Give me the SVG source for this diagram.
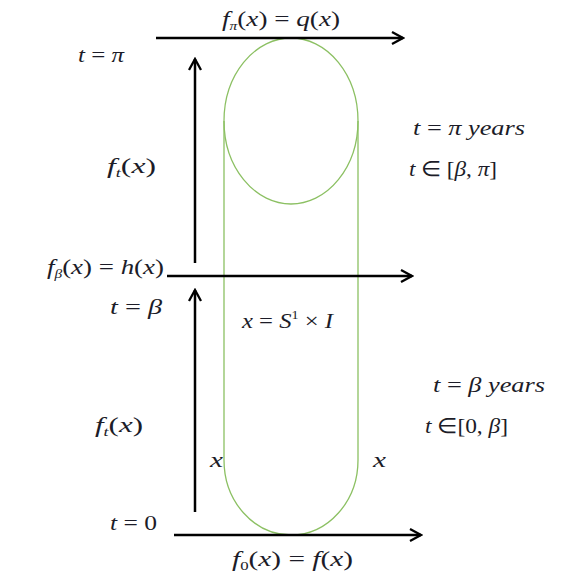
<svg xmlns="http://www.w3.org/2000/svg" width="566" height="587" viewBox="0 0 566 587">
<defs>
<style>
text{font-family:"Liberation Serif","Times New Roman",serif;font-style:italic;font-size:21px;fill:#1c1c28}
.up{font-style:normal}
.sub{font-size:12px}
.axis{stroke:#000;stroke-width:2.5;fill:none}
.shape{stroke:#8cc063;stroke-width:1.3;fill:none}
</style>
<marker id="ah" viewBox="0 0 14 14" refX="12" refY="7" markerWidth="14" markerHeight="14" markerUnits="userSpaceOnUse" orient="auto">
<path d="M1,1 L12,7 L1,13" fill="none" stroke="#000" stroke-width="2.3"/>
</marker>
</defs>
<rect width="566" height="587" fill="#fff"/>
<g id="manifold">
<ellipse class="shape" cx="291" cy="121" rx="67" ry="83"/>
<path class="shape" d="M224,121 V460 A67,75 0 0 0 358,460 V121"/>
</g>
<g id="connectors">
<line class="axis" x1="156" y1="38" x2="403" y2="38" marker-end="url(#ah)"/>
<line class="axis" x1="167" y1="276" x2="412" y2="276" marker-end="url(#ah)"/>
<line class="axis" x1="174" y1="535" x2="421" y2="535" marker-end="url(#ah)"/>
<line class="axis" x1="195" y1="263" x2="195" y2="59" marker-end="url(#ah)"/>
<line class="axis" x1="195" y1="512" x2="195" y2="290" marker-end="url(#ah)"/>
</g>
<g id="labels">
<text x="222" y="26" textLength="118" lengthAdjust="spacingAndGlyphs">f<tspan class="sub" dy="4">π</tspan><tspan class="up" dy="-4">(</tspan>x<tspan class="up">) = </tspan>q<tspan class="up">(</tspan>x<tspan class="up">)</tspan></text>
<text x="78" y="62" textLength="46" lengthAdjust="spacingAndGlyphs">t<tspan class="up"> = </tspan>π</text>
<text x="107" y="173" textLength="49" lengthAdjust="spacingAndGlyphs">f<tspan class="sub" dy="4">t</tspan><tspan class="up" dy="-4">(</tspan>x<tspan class="up">)</tspan></text>
<text x="47" y="274" textLength="117" lengthAdjust="spacingAndGlyphs">f<tspan class="sub" dy="4">β</tspan><tspan class="up" dy="-4">(</tspan>x<tspan class="up">) = </tspan>h<tspan class="up">(</tspan>x<tspan class="up">)</tspan></text>
<text x="110" y="314" textLength="52" lengthAdjust="spacingAndGlyphs">t<tspan class="up"> = </tspan>β</text>
<text x="242" y="328" textLength="91" lengthAdjust="spacingAndGlyphs">x<tspan class="up"> = </tspan>S<tspan class="up sub" dy="-9">1</tspan><tspan class="up" dy="9"> × </tspan>I</text>
<text x="413" y="135" textLength="112" lengthAdjust="spacingAndGlyphs">t<tspan class="up"> = </tspan>π years</text>
<text x="409" y="176" textLength="88" lengthAdjust="spacingAndGlyphs">t<tspan class="up"> ∈ [</tspan>β<tspan class="up">, </tspan>π<tspan class="up">]</tspan></text>
<text x="433" y="392" textLength="112" lengthAdjust="spacingAndGlyphs">t<tspan class="up"> = </tspan>β years</text>
<text x="425" y="433" textLength="83" lengthAdjust="spacingAndGlyphs">t<tspan class="up"> ∈[0, </tspan>β<tspan class="up">]</tspan></text>
<text x="95" y="432" textLength="48" lengthAdjust="spacingAndGlyphs">f<tspan class="sub" dy="4">t</tspan><tspan class="up" dy="-4">(</tspan>x<tspan class="up">)</tspan></text>
<text x="210" y="467" textLength="13" lengthAdjust="spacingAndGlyphs">x</text>
<text x="373" y="467" textLength="13" lengthAdjust="spacingAndGlyphs">x</text>
<text x="110" y="530" textLength="47" lengthAdjust="spacingAndGlyphs">t<tspan class="up"> = 0</tspan></text>
<text x="232" y="566" textLength="121" lengthAdjust="spacingAndGlyphs">f<tspan class="sub up" dy="4">0</tspan><tspan class="up" dy="-4">(</tspan>x<tspan class="up">) = </tspan>f<tspan class="up">(</tspan>x<tspan class="up">)</tspan></text>
</g>
</svg>
